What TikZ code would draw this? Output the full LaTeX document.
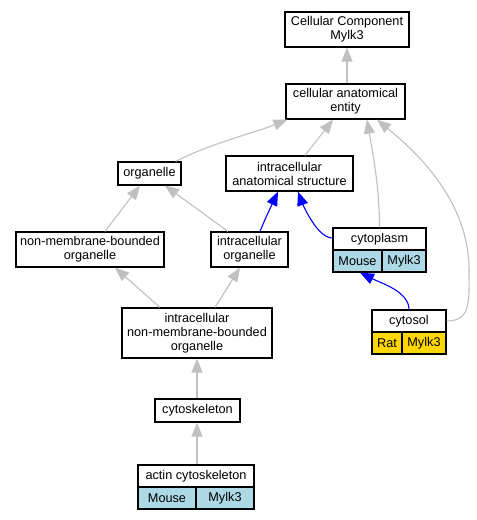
\documentclass[tikz,border=0pt]{standalone}
\usepackage{fontspec}
\setmainfont{Liberation Sans}
\usetikzlibrary{arrows.meta}
\definecolor{gline}{HTML}{C0C0C0}
\definecolor{lb}{HTML}{ADD8E6}
\definecolor{gd}{HTML}{FFD700}
\begin{document}
\begin{tikzpicture}[x=1pt,y=-1pt,
  box/.style={draw=black, line width=1.2pt, fill=white, inner sep=0pt, align=center,
    font=\fontsize{12.7}{14}\selectfont},
  gedge/.style={draw=gline, line width=1.1pt, -{Triangle[length=14pt,width=11pt]}},
  bedge/.style={draw=blue, line width=1.1pt, -{Triangle[length=14pt,width=11pt]}}]
\useasboundingbox[fill=white] (0,0) rectangle (477,520);
% nodes
\node[box, minimum width=124, minimum height=35] (ccm) at (347,29.5) {Cellular Component\\Mylk3};
\node[box, minimum width=119, minimum height=35] (cae) at (345.5,101.5) {cellular anatomical\\entity};
\node[box, minimum width=63, minimum height=23] (org) at (149.5,173.5) {organelle};
\node[box, minimum width=127, minimum height=35] (ias) at (289.5,173.5) {intracellular\\anatomical structure};
\node[box, minimum width=148, minimum height=35] (nmbo) at (90,249.5) {non-membrane-bounded\\organelle};
\node[box, minimum width=77, minimum height=35] (io) at (249.5,249.5) {intracellular\\organelle};
\node[box, minimum width=150, minimum height=50] (inmbo) at (197,333) {intracellular\\non-membrane-bounded\\organelle};
\node[box, minimum width=85, minimum height=23] (csk) at (197.5,410.5) {cytoskeleton};
% cytoplasm record
\node[box, minimum width=93, minimum height=22] (cyto) at (379.5,239) {cytoplasm};
\node[box, fill=lb, minimum width=49, minimum height=22] (cytoM) at (357.5,261) {Mouse};
\node[box, fill=lb, minimum width=44, minimum height=22] (cytoK) at (404,261) {Mylk3};
% cytosol record
\node[box, minimum width=74, minimum height=22] (csol) at (409,321) {cytosol};
\node[box, fill=gd, minimum width=30, minimum height=22] (csolR) at (387,343) {Rat};
\node[box, fill=gd, minimum width=44, minimum height=22] (csolK) at (424,343) {Mylk3};
% actin record
\node[box, minimum width=116, minimum height=22] (act) at (196,476) {actin cytoskeleton};
\node[box, fill=lb, minimum width=58, minimum height=22] (actM) at (167,498) {Mouse};
\node[box, fill=lb, minimum width=58, minimum height=22] (actK) at (225,498) {Mylk3};
% edges
\draw[gedge] (cae.north -| ccm.south) -- (ccm.south);
\draw[gedge] ([xshift=-6]org.north east) .. controls +(35,-18) and +(-35,14) .. ([xshift=2]cae.south west);
\draw[gedge] ([xshift=15.5]ias.north) -- ([xshift=-12.5]cae.south);
\draw[gedge] (cyto.north) .. controls +(0,-40) and +(6,35) .. ([xshift=21.5]cae.south);
\draw[gedge] (csol.east) .. controls +(25,0) and +(0,30) .. (469,270) .. controls +(0,-75) and +(30,25) .. ([xshift=31.5]cae.south);
\draw[gedge] ([xshift=15]nmbo.north) -- ([xshift=-9.5]org.south);
\draw[gedge] ([xshift=-21.5]io.north) -- ([xshift=15.5]org.south);
\draw[bedge] ([xshift=10.5]io.north) .. controls +(5,-12) .. ([xshift=-11.5]ias.south);
\draw[bedge] ([yshift=1]cyto.west) .. controls +(-18,0) and +(0,0) .. ([xshift=8.5]ias.south);
\draw[bedge] (csol.north) .. controls +(0,-18) and +(20,10) .. ([xshift=2.5]cytoM.south);
\draw[gedge] ([xshift=-37]inmbo.north) -- ([xshift=25]nmbo.south);
\draw[gedge] ([xshift=18]inmbo.north) -- ([xshift=-9.5]io.south);
\draw[gedge] (csk.north -| inmbo.south) -- (inmbo.south);
\draw[gedge] (act.north -| inmbo.south) -- (csk.south -| inmbo.south);
\end{tikzpicture}
\end{document}
